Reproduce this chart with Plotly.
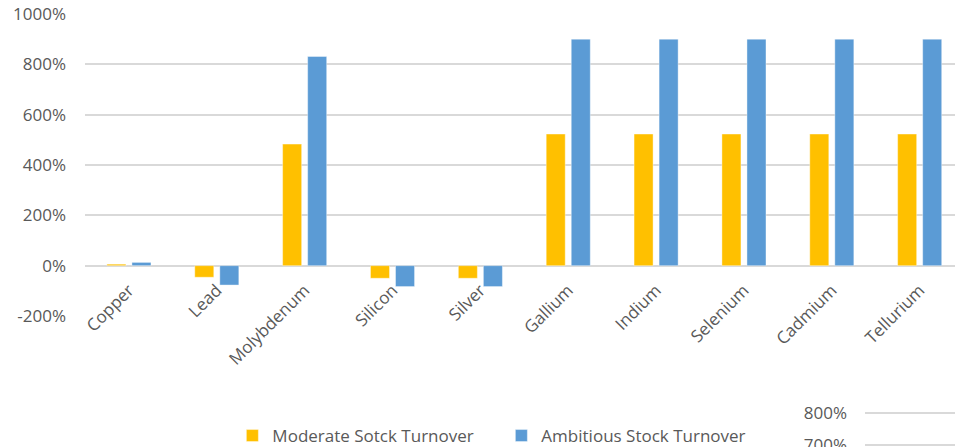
import plotly.graph_objects as go

# Stock turnover change by material (percent)
materials = ["Copper", "Lead", "Molybdenum", "Silicon", "Silver",
             "Gallium", "Indium", "Selenium", "Cadmium", "Tellurium"]
moderate = [6, -46, 483, -50, -50, 523, 523, 523, 523, 523]
ambitious = [13, -77, 831, -83, -83, 900, 900, 900, 900, 900]

y_ticks = [-200, 0, 200, 400, 600, 800, 1000]
y_tick_text = [f"{v}%" for v in y_ticks]

# Adjacent panel axis peeking in at the lower right
side_ticks = [700, 800]
side_tick_text = [f"{v}%" for v in side_ticks]

W, H = 955, 447
L, T = 85.4, 14
plot_bottom = 316
zero_px = 266
paper_h = H - T
main_dom_bottom = (H - plot_bottom) / paper_h

FONT = "Open Sans, Noto Sans, sans-serif"
GRAY = "#595959"
GRID = "#d9d9d9"

fig = go.Figure()
fig.add_trace(go.Bar(
    x=materials, y=moderate, name="Moderate Sotck Turnover",
    marker=dict(color="#FFC000", line=dict(color="rgba(255,255,255,0.5)", width=0.8)),
))
fig.add_trace(go.Bar(
    x=materials, y=ambitious, name="Ambitious Stock Turnover",
    marker=dict(color="#5B9BD5", line=dict(color="rgba(255,255,255,0.5)", width=0.8)),
))
fig.add_trace(go.Scatter(x=[], y=[], xaxis="x2", yaxis="y2", showlegend=False))

px_per_cat = 87.82
right_val = 9 + (W - (L + 0.5 * px_per_cat + 9 * px_per_cat)) / px_per_cat

fig.update_layout(
    width=W, height=H,
    margin=dict(l=L, r=0, t=T, b=0, pad=0, autoexpand=False),
    paper_bgcolor="white", plot_bgcolor="white",
    barmode="group", bargap=0.43, bargroupgap=0.24,
    font=dict(family=FONT, color=GRAY, size=17),
    xaxis=dict(
        domain=[0, 1], range=[-0.5, right_val],
        anchor="free", position=(H - zero_px) / paper_h,
        tickangle=-45, showgrid=False, zeroline=False, showline=False,
        ticks="", ticklabelstandoff=10,
        tickfont=dict(size=17, color=GRAY),
    ),
    yaxis=dict(
        domain=[main_dom_bottom, 1], range=[-200, 1000],
        tickvals=y_ticks, ticktext=y_tick_text,
        showgrid=True, gridcolor=GRID, gridwidth=2,
        zeroline=False, showline=False, ticks="",
        ticklabelstandoff=18,
        tickfont=dict(size=17, color=GRAY),
    ),
    xaxis2=dict(
        domain=[(865 - L) / (W - L), 1], range=[0, 1], anchor="y2",
        showgrid=False, zeroline=False, showline=False, showticklabels=False,
    ),
    yaxis2=dict(
        domain=[0, 47 / paper_h], range=[693.75, 840.6], anchor="x2",
        tickvals=side_ticks, ticktext=side_tick_text,
        showgrid=True, gridcolor=GRID, gridwidth=2,
        zeroline=False, showline=False, ticks="",
        ticklabelstandoff=17, ticklabeloverflow="allow",
        tickfont=dict(size=17, color=GRAY),
    ),
    legend=dict(
        orientation="h", x=(232.7 - L) / (W - L), xanchor="left",
        y=(H - 436) / paper_h, yanchor="middle",
        font=dict(size=17, color=GRAY, family=FONT),
        entrywidth=224, bgcolor="rgba(0,0,0,0)",
    ),
    showlegend=True,
)

fig.write_html("out.html")
